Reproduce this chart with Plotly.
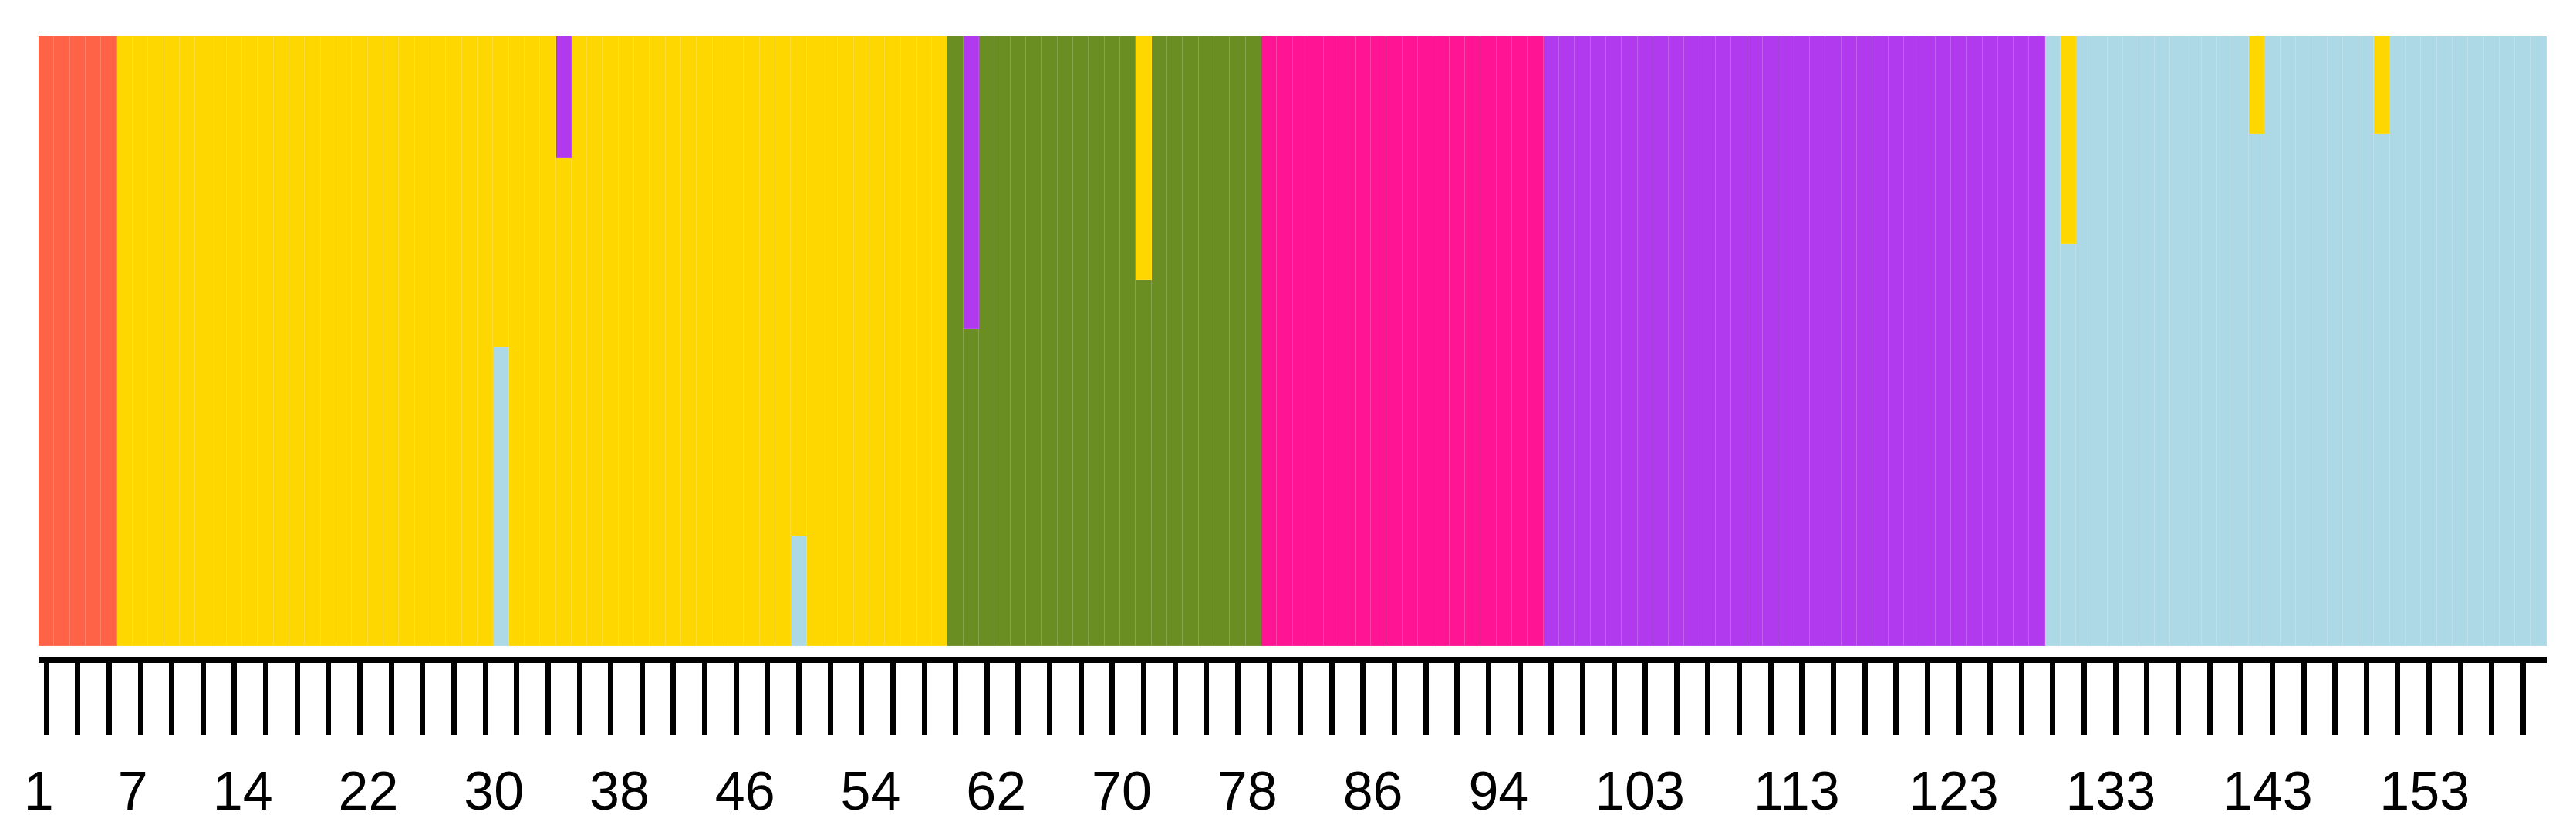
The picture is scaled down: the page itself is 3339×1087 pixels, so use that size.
import plotly.graph_objects as go

# ---- data -------------------------------------------------------------
samples = list(range(1, 161))  # 160 individuals

# membership coefficients per cluster (stack order bottom -> top)
c_lightblue = ([0] * 29 + [0.49] + [0] * 18 + [0.18] + [0] * 79 +
               [1] + [0.66] + [1] * 11 + [0.84] + [1] * 7 + [0.84] + [1] * 10)
c_tomato = [1] * 5 + [0] * 155
c_olive = [0] * 58 + [1] + [0.52] + [1] * 10 + [0.60] + [1] * 7 + [0] * 82
c_pink = [0] * 78 + [1] * 18 + [0] * 64
c_gold = ([0] * 5 + [1] * 24 + [0.51] + [1] * 3 + [0.80] + [1] * 14 + [0.82] +
          [1] * 9 + [0] * 12 + [0.40] + [0] * 58 + [0.34] + [0] * 11 + [0.16] +
          [0] * 7 + [0.16] + [0] * 10)
c_purple = [0] * 33 + [0.20] + [0] * 25 + [0.48] + [0] * 36 + [1] * 32 + [0] * 32

clusters = [
    ("K1", c_lightblue, "#ADD8E6"),
    ("K2", c_tomato, "#FF6347"),
    ("K3", c_olive, "#6B8E23"),
    ("K4", c_pink, "#FF1493"),
    ("K5", c_gold, "#FFD700"),
    ("K6", c_purple, "#B23AEE"),
]

ruler_ticks = list(range(1, 160, 2))
tick_labels = [1, 7, 14, 22, 30, 38, 46, 54, 62, 70, 78, 86, 94,
               103, 113, 123, 133, 143, 153]

# ---- figure -----------------------------------------------------------
fig = go.Figure()
for name, vals, col in clusters:
    fig.add_trace(go.Bar(
        x=samples, y=vals, name=name,
        marker=dict(color=col, line=dict(color="rgba(255,255,255,0.10)", width=1)),
        hoverinfo="x+y+name",
    ))

# invisible carrier trace so the label axis (x2) is drawn
fig.add_trace(go.Scatter(
    x=tick_labels, y=[0] * len(tick_labels), xaxis="x2", yaxis="y",
    mode="markers", marker=dict(opacity=0, size=1), hoverinfo="skip",
    showlegend=False,
))

font_family = "Liberation Sans, Arial, sans-serif"

fig.update_layout(
    width=3339, height=1087,
    margin=dict(l=42, r=46, t=39, b=244),
    paper_bgcolor="white", plot_bgcolor="white",
    barmode="stack", bargap=0,
    showlegend=False,
    xaxis=dict(
        range=[0.5, 160.5],
        tickmode="array", tickvals=ruler_ticks,
        ticks="outside", ticklen=93, tickwidth=7, tickcolor="black",
        showticklabels=False,
        showline=True, linecolor="black", linewidth=8,
        showgrid=False, zeroline=False, fixedrange=True,
    ),
    xaxis2=dict(
        overlaying="x", anchor="y", side="bottom",
        range=[0.99, 160.78],
        tickmode="array", tickvals=tick_labels,
        ticktext=[str(v) for v in tick_labels],
        ticks="outside", ticklen=100, tickcolor="rgba(0,0,0,0)", tickwidth=1,
        ticklabelstandoff=13,
        tickfont=dict(family=font_family, size=70, color="black"),
        showline=False, showgrid=False, zeroline=False, fixedrange=True,
    ),
    yaxis=dict(
        range=[-0.0177, 1], visible=False, showgrid=False, zeroline=False,
        fixedrange=True,
    ),
)

fig.write_html("out.html")
